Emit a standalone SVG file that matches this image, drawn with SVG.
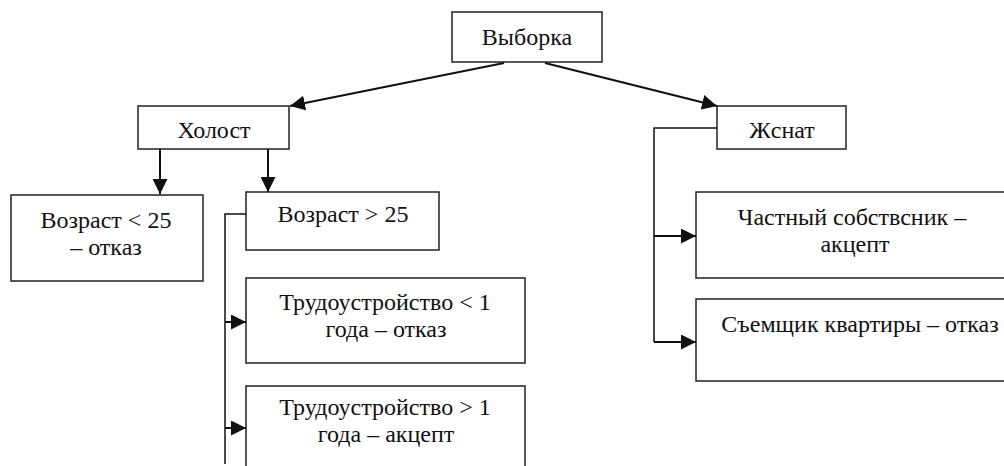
<svg xmlns="http://www.w3.org/2000/svg" width="1004" height="466" viewBox="0 0 1004 466">
<style>
.box{fill:#fff;stroke:#222;stroke-width:1.5}
.t{font-family:'Liberation Serif','Times New Roman',serif;font-size:24px;fill:#111;text-anchor:middle}
.c{fill:none;stroke:#111;stroke-width:2}
.b{fill:none;stroke:#111;stroke-width:1.5}
</style>
<defs>
<marker id="ah" markerUnits="userSpaceOnUse" markerWidth="16" markerHeight="15" refX="15" refY="7.5" orient="auto">
<path d="M0,0 L15,7.5 L0,15 Z" fill="#111"/>
</marker>
</defs>
<rect width="1004" height="466" fill="#fff"/>
<g id="n-vyborka"><rect class="box" x="452" y="12" width="150" height="50"/><text class="t" x="527" y="45">Выборка</text></g>
<g id="n-holost"><rect class="box" x="138" y="106" width="151" height="43"/><text class="t" x="214" y="138">Холост</text></g>
<g id="n-zhenat"><rect class="box" x="717" y="106" width="129" height="43"/><text class="t" x="782" y="138">Жснат</text></g>
<g id="n-age-lt"><rect class="box" x="11" y="195" width="192" height="86"/><text class="t" x="106" y="228">Возраст &lt; 25</text><text class="t" x="106" y="255">– отказ</text></g>
<g id="n-age-gt"><rect class="box" x="246" y="192" width="193" height="58"/><text class="t" x="343" y="222">Возраст &gt; 25</text></g>
<g id="n-job-lt"><rect class="box" x="246" y="278" width="279" height="85"/><text class="t" x="385" y="310">Трудоустройство &lt; 1</text><text class="t" x="386" y="337">года – отказ</text></g>
<g id="n-job-gt"><rect class="box" x="246" y="386" width="279" height="90"/><text class="t" x="385" y="415">Трудоустройство &gt; 1</text><text class="t" x="386" y="442">года – акцепт</text></g>
<g id="n-owner"><rect class="box" x="696" y="192" width="320" height="86"/><text class="t" x="852" y="225">Частный собствсник –</text><text class="t" x="855" y="252">акцепт</text></g>
<g id="n-tenant"><rect class="box" x="696" y="299" width="320" height="82"/><text class="t" x="860" y="332">Съемщик квартиры – отказ</text></g>
<g id="connectors">
<line class="c" x1="504" y1="63" x2="290" y2="106" marker-end="url(#ah)"/>
<line class="c" x1="545" y1="63" x2="717" y2="106" marker-end="url(#ah)"/>
<line class="c" x1="160" y1="149" x2="160" y2="194" marker-end="url(#ah)"/>
<line class="c" x1="268" y1="149" x2="268" y2="192" marker-end="url(#ah)"/>
<path class="b" d="M246,214 H225 V464"/>
<line class="c" x1="225" y1="322" x2="246" y2="322" marker-end="url(#ah)"/>
<line class="c" x1="225" y1="428" x2="246" y2="428" marker-end="url(#ah)"/>
<path class="b" d="M717,128 H654 V342"/>
<line class="c" x1="654" y1="236" x2="696" y2="236" marker-end="url(#ah)"/>
<line class="c" x1="654" y1="342" x2="696" y2="342" marker-end="url(#ah)"/>
</g>
</svg>
